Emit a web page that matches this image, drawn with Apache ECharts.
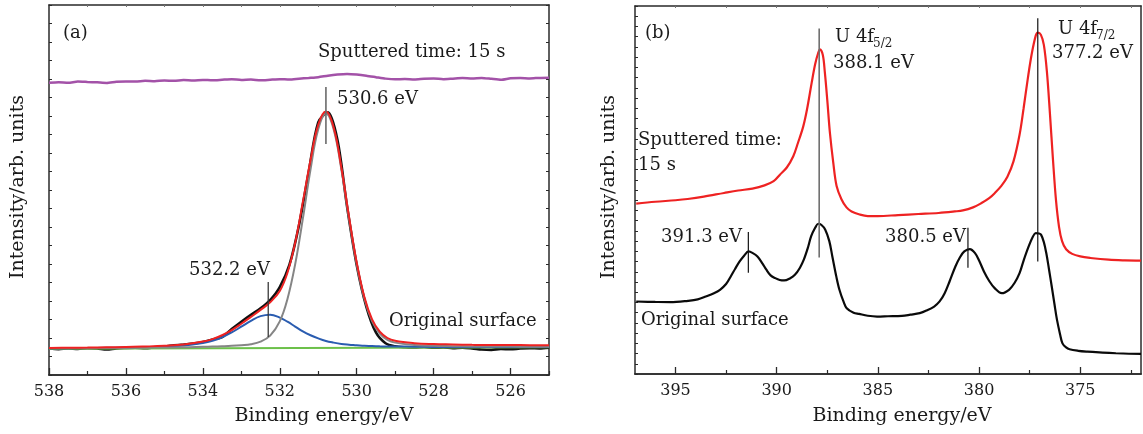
<!DOCTYPE html>
<html>
<head>
<meta charset="utf-8">
<script src="https://cdn.jsdelivr.net/npm/echarts/dist/echarts.min.js"></script>
<style>
  html, body { margin: 0; padding: 0; background: #ffffff; }
  #chart { width: 1143px; height: 434px; }
</style>
</head>
<body>
<div id="chart"></div>
<script>
// ---------------- Panel (a): O 1s ----------------
const aFitX = [538,537.5,537,536.5,536,535.5,535,534.5,534,533.75,533.5,533.25,533,532.75,532.5,532.25,532,531.8,531.6,531.4,531.2,531,530.8,530.6,530.4,530.2,530,529.8,529.6,529.4,529.2,529,528.5,528,527.5,527,526.5,526,525.5,525];
const aGray = [1.44,1.44,1.45,1.455,1.46,1.475,1.485,1.495,1.525,1.54,1.555,1.575,1.61,1.66,1.80,2.13,2.90,4.11,5.98,8.45,11.12,13.28,14.14,13.29,11.13,8.46,5.99,4.12,2.91,2.24,1.90,1.75,1.625,1.575,1.56,1.545,1.535,1.535,1.53,1.525];
const aBlue = [1.44,1.45,1.46,1.47,1.48,1.51,1.535,1.59,1.73,1.85,2.04,2.30,2.61,2.93,3.18,3.26,3.105,2.88,2.62,2.36,2.15,1.98,1.84,1.75,1.68,1.64,1.61,1.576,1.565,1.55,1.54,1.545,1.53,1.52,1.52,1.517,1.512,1.52,1.518,1.516];
const aRed = [1.46,1.47,1.48,1.50,1.51,1.54,1.58,1.645,1.805,1.94,2.15,2.425,2.77,3.14,3.52,3.93,4.545,5.53,7.14,9.35,11.62,13.53,14.24,13.39,11.23,8.56,6.09,4.22,3.01,2.34,2.00,1.85,1.72,1.67,1.65,1.63,1.62,1.62,1.61,1.61];
const aBaseX = [538, 525];
const aBaseY = [1.42, 1.50];
const aDataX = [538,537.75,537.5,537.25,537,536.75,536.5,536.25,536,535.75,535.5,535.25,535,534.75,534.5,534.25,534,533.75,533.5,533.25,533,532.75,532.5,532.25,532,531.75,531.5,531.25,531,530.75,530.5,530.25,530,529.75,529.5,529.25,529,528.75,528.5,528.25,528,527.75,527.5,527.25,527,526.75,526.5,526.25,526,525.75,525.5,525.25,525];
const aOriginal = [1.43,1.40,1.44,1.41,1.45,1.43,1.38,1.44,1.46,1.47,1.45,1.50,1.54,1.60,1.65,1.70,1.78,1.92,2.05,2.48,2.88,3.25,3.60,4.05,4.75,5.95,8.10,10.95,13.65,14.20,12.70,9.10,5.95,3.70,2.30,1.72,1.55,1.50,1.49,1.51,1.47,1.49,1.45,1.48,1.44,1.38,1.36,1.41,1.39,1.43,1.45,1.44,1.48];
const aSputtered = [15.80,15.83,15.80,15.86,15.84,15.82,15.79,15.85,15.87,15.86,15.90,15.88,15.92,15.90,15.94,15.92,15.95,15.93,15.96,15.99,15.95,15.97,15.93,15.96,15.99,15.97,16.02,16.06,16.10,16.18,16.24,16.27,16.24,16.18,16.10,16.02,15.98,16.00,15.97,16.01,16.03,15.99,16.02,16.05,16.03,16.06,16.01,15.96,16.04,16.05,16.03,16.06,16.07];
const aPeakX = [530.8, 532.3];
const aPeakLow = [12.49, 2.05];
const aPeakHigh = [15.57, 5.03];
const aMajorTicks = [538,536,534,532,530,528,526];
const aMinorTicks = [537,535,533,531,529,527,525];
const aTopTicks = [537,536,535,534,533,532,531,530,529,528,527,526];
const aRange = [525, 538];
const aYRange = [0, 20];

// ---------------- Panel (b): U 4f ----------------
const bRedX = [396.94,396.0,395.0,394.4,393.6,392.6,391.9,391.2,390.6,390.15,389.84,389.5,389.18,388.95,388.69,388.5,388.27,388.1,387.95,387.86,387.72,387.62,387.5,387.37,387.2,387.04,386.8,386.55,386.3,385.9,385.5,385.0,384.0,383.0,382.0,381.2,380.8,380.3,379.9,379.5,379.2,378.9,378.6,378.3,378.0,377.8,377.6,377.4,377.2,377.1,376.95,376.8,376.65,376.5,376.35,376.2,376.05,375.9,375.7,375.4,375.0,374.5,373.6,372.8,372.0];
const bRedY = [16.67,16.85,17.0,17.12,17.35,17.71,17.95,18.14,18.45,18.86,19.5,20.2,21.3,22.6,24.2,25.9,28.5,30.3,31.4,31.76,31.2,29.5,26.8,23.6,20.6,18.4,17.1,16.3,15.9,15.6,15.45,15.45,15.55,15.65,15.75,15.9,16.0,16.3,16.7,17.2,17.75,18.4,19.3,20.8,23.4,26.0,28.8,31.3,33.1,33.4,33.2,32.2,29.6,25.5,21.0,17.0,14.4,13.0,12.2,11.75,11.5,11.35,11.18,11.12,11.1];
const bBlackX = [396.94,396.0,395.26,394.38,393.9,393.5,393.1,392.8,392.5,392.27,392.05,391.83,391.6,391.39,391.2,390.95,390.7,390.51,390.3,390.07,389.85,389.63,389.35,389.1,388.85,388.66,388.45,388.3,388.1,387.95,387.8,387.6,387.4,387.25,387.05,386.9,386.7,386.54,386.2,385.93,385.5,385.04,384.5,383.81,383.4,382.93,382.6,382.22,381.95,381.7,381.45,381.17,380.95,380.73,380.46,380.2,380.0,379.76,379.5,379.23,378.88,378.52,378.25,378.0,377.8,377.55,377.35,377.2,377.05,376.94,376.8,376.68,376.55,376.41,376.28,376.15,376.0,375.88,375.7,375.53,375.1,374.65,373.9,373.24,372.6,372.0];
const bBlackY = [7.09,7.05,7.03,7.16,7.3,7.58,7.9,8.24,8.8,9.54,10.3,11.01,11.6,11.99,11.85,11.5,10.8,10.2,9.65,9.38,9.2,9.15,9.35,9.7,10.4,11.18,12.4,13.46,14.3,14.7,14.6,14.12,13.0,11.5,9.5,8.24,7.1,6.44,6.0,5.88,5.7,5.62,5.65,5.69,5.8,5.95,6.2,6.6,7.1,7.91,9.1,10.52,11.4,11.99,12.22,11.83,11.1,10.03,9.1,8.4,7.91,8.24,8.9,9.87,11.1,12.48,13.4,13.79,13.75,13.63,12.9,11.83,10.3,8.56,6.9,5.29,3.9,3.0,2.6,2.42,2.27,2.19,2.1,2.03,1.98,1.96];
const bPeakX = [387.9, 377.1, 391.4, 380.55];
const bPeakLow = [11.4, 11.0, 9.9, 10.4];
const bPeakHigh = [33.8, 34.8, 13.9, 14.3];
const bMajorTicks = [395,390,385,380,375];
const bMinorTicks = [392.5,387.5,382.5,377.5,372.5];
const bTopTicks = [395,392.5,390,387.5,385,382.5,380,377.5,375,372.5];
const bRange = [372, 397];
const bYRange = [0, 36];

// ---------------- build ----------------
const FONT_FAMILY = 'DejaVu Serif';
const FONT = '"DejaVu Serif", serif';
const TXT = '#1a1a1a';
const FRAME = '#2a2a2a';
const pairs = (xs, ys) => xs.map((x, i) => [x, ys[i]]);

function mainXAxes(gi, range, major, top) {
  return [
    { gridIndex: gi, type: 'value', min: range[0], max: range[1], inverse: true, position: 'bottom',
      axisLine: { show: true, onZero: false, lineStyle: { color: FRAME, width: 1.5 } },
      axisTick: { show: true, inside: true, length: 7, customValues: major, lineStyle: { color: FRAME, width: 1.3 } },
      axisLabel: { show: true, customValues: major, margin: 9, fontFamily: FONT_FAMILY, fontSize: 16, color: TXT },
      splitLine: { show: false } },
    { gridIndex: gi, type: 'value', min: range[0], max: range[1], inverse: true, position: 'top',
      axisLine: { show: true, onZero: false, lineStyle: { color: FRAME, width: 1.5 } },
      axisTick: { show: true, inside: true, length: 2, customValues: top, lineStyle: { color: '#777', width: 1 } },
      axisLabel: { show: false }, splitLine: { show: false } }
  ];
}
function minorXAxis(gi, range, minor) {
  return { gridIndex: gi, type: 'value', min: range[0], max: range[1], inverse: true, position: 'bottom',
    axisLine: { show: true, onZero: false, lineStyle: { color: FRAME, width: 1.5 } },
    axisTick: { show: true, inside: true, length: 4, customValues: minor, lineStyle: { color: FRAME, width: 1.2 } },
    axisLabel: { show: false, customValues: minor }, splitLine: { show: false } };
}
function yAxes(gi, range, rightTicks) {
  return [
    { gridIndex: gi, type: 'value', min: range[0], max: range[1], interval: 1, position: 'left',
      axisLine: { show: true, onZero: false, lineStyle: { color: FRAME, width: 1.5 } },
      axisTick: { show: true, inside: true, length: 3, lineStyle: { color: FRAME, width: 1 } },
      axisLabel: { show: false }, splitLine: { show: false } },
    { gridIndex: gi, type: 'value', min: range[0], max: range[1], interval: 1, position: 'right',
      axisLine: { show: true, onZero: false, lineStyle: { color: FRAME, width: 1.5 } },
      axisTick: { show: rightTicks, inside: true, length: 3, lineStyle: { color: FRAME, width: 1 } },
      axisLabel: { show: false }, splitLine: { show: false } }
  ];
}
function hiddenY(gi, range) {
  return { gridIndex: gi, type: 'value', min: range[0], max: range[1], show: false };
}

function curve(xi, yi, data, color, width, smooth, z) {
  return { type: 'line', xAxisIndex: xi, yAxisIndex: yi, data: data, showSymbol: false, symbol: 'none',
    smooth: smooth, lineStyle: { color: color, width: width }, silent: true, z: z || 2 };
}
function peakLines(xi, yi, xs, lo, hi, colors, widths) {
  return xs.map((x, i) => ({ type: 'line', xAxisIndex: xi, yAxisIndex: yi, data: [[x, lo[i]], [x, hi[i]]],
    showSymbol: false, symbol: 'none', lineStyle: { color: colors[i], width: widths[i] }, silent: true, z: 6 }));
}

const series = [
  curve(0, 0, pairs(aDataX, aOriginal), '#111111', 2.6, 0.3, 2),
  curve(0, 0, pairs(aBaseX, aBaseY), '#6cc04a', 2, false, 3),
  curve(0, 0, pairs(aFitX, aBlue), '#2a5cb0', 2, 0.4, 4),
  curve(0, 0, pairs(aFitX, aGray), '#858585', 2, 0.4, 4),
  curve(0, 0, pairs(aFitX, aRed), '#ee2222', 2, 0.4, 5),
  curve(0, 0, pairs(aDataX, aSputtered), '#a352a8', 2.5, 0.2, 5),
  ...peakLines(0, 0, aPeakX, aPeakLow, aPeakHigh, ['#6a6a6a', '#3a3a3a'], [1.6, 1.3]),
  curve(3, 3, pairs(bRedX, bRedY), '#ee2222', 2.2, 0.35, 3),
  curve(3, 3, pairs(bBlackX, bBlackY), '#0a0a0a', 2.2, 0.35, 3),
  ...peakLines(3, 3, bPeakX, bPeakLow, bPeakHigh, ['#6f6f6f', '#111111', '#111111', '#111111'], [1.6, 1.2, 1.2, 1.2])
];

function txt(x, y, text, size, align, rot) {
  return { type: 'text', x: x, y: y, rotation: rot || 0, silent: true, z: 10,
    style: { text: text, font: size + 'px ' + FONT, fill: TXT, align: align || 'left', verticalAlign: 'middle' } };
}

const graphics = [
  txt(63, 33, '(a)', 18),
  txt(318, 52, 'Sputtered time: 15 s', 18),
  txt(337, 99, '530.6 eV', 18),
  txt(189, 270, '532.2 eV', 18),
  txt(389, 321, 'Original surface', 18),
  txt(324, 416, 'Binding energy/eV', 19, 'center'),
  txt(18, 187, 'Intensity/arb. units', 19, 'center', Math.PI / 2),
  txt(645, 33, '(b)', 18),
  txt(835, 37, 'U 4f', 18),
  txt(873, 44, '5/2', 12),
  txt(833, 63, '388.1 eV', 18),
  txt(1058, 29, 'U 4f', 18),
  txt(1096, 36, '7/2', 12),
  txt(1052, 53, '377.2 eV', 18),
  txt(742, 237, '391.3 eV', 18, 'right'),
  txt(966, 237, '380.5 eV', 18, 'right'),
  txt(638, 140, 'Sputtered time:', 18),
  txt(638, 165, '15 s', 18),
  txt(641, 320, 'Original surface', 18),
  txt(902, 416, 'Binding energy/eV', 19, 'center'),
  txt(609, 187, 'Intensity/arb. units', 19, 'center', Math.PI / 2)
];

const gridA = { left: 49, top: 5, width: 500, height: 370, containLabel: false };
const gridB = { left: 635, top: 6, width: 506, height: 368, containLabel: false };

const option = {
  animation: false,
  backgroundColor: '#ffffff',
  textStyle: { fontFamily: FONT_FAMILY },
  grid: [gridA, Object.assign({}, gridA), gridB, Object.assign({}, gridB)],
  xAxis: [
    ...mainXAxes(0, aRange, aMajorTicks, aTopTicks),
    minorXAxis(1, aRange, aMinorTicks),
    ...mainXAxes(2, bRange, bMajorTicks, bTopTicks),
    minorXAxis(3, bRange, bMinorTicks)
  ],
  yAxis: [
    ...yAxes(0, aYRange, true), hiddenY(1, aYRange),
    ...yAxes(2, bYRange, false), hiddenY(3, bYRange)
  ],
  series: series,
  graphic: graphics
};

const chart = echarts.init(document.getElementById('chart'), null, { renderer: 'canvas' });
chart.setOption(option);
</script>
</body>
</html>
